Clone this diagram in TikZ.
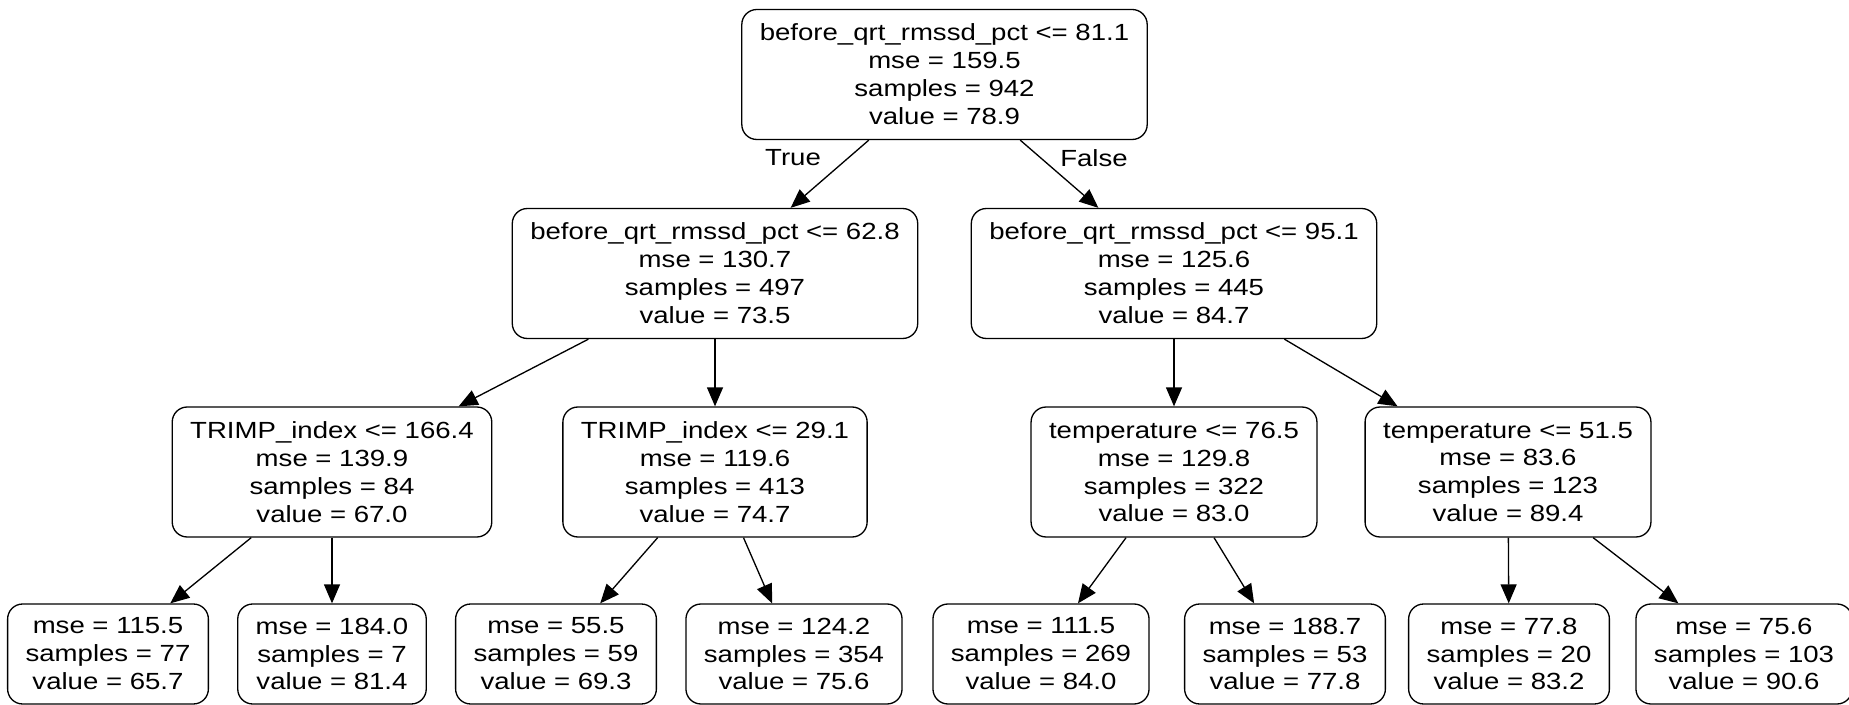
\documentclass[tikz,border=0pt]{standalone}
\usepackage{fontspec}
\setmainfont[FakeStretch=1.18]{Liberation Sans}
\usetikzlibrary{arrows.meta}

\begin{document}
\begin{tikzpicture}[x=0.02cm, y=-0.02cm,
    split/.style={draw, line width=0.75pt, rounded corners=0.3cm, align=center,
                  inner xsep=0.36cm, inner ysep=0pt, minimum height=2.6cm,
                  font=\fontsize{13.3}{15.9}\selectfont},
    leaf/.style={split, minimum height=2.0cm},
    edge/.style={line width=0.75pt, -{Triangle[length=0.38cm, width=0.32cm]}},
    lbl/.style={font=\fontsize{13.3}{15.9}\selectfont}]
                    \useasboundingbox (0,0) rectangle (1849,705);
                    % Root
                    \node[split] (root) at (944.5,74.5) {before\_qrt\_rmssd\_pct <= 81.1\\mse = 159.5\\samples = 942\\value = 78.9};
                    % Second level
                    \node[split] (bqL) at (715,273.5) {before\_qrt\_rmssd\_pct <= 62.8\\mse = 130.7\\samples = 497\\value = 73.5};
                    \node[split] (bqR) at (1174,273.5) {before\_qrt\_rmssd\_pct <= 95.1\\mse = 125.6\\samples = 445\\value = 84.7};
                    % Third level
                    \node[split] (trimpA) at (332,472) {TRIMP\_index <= 166.4\\mse = 139.9\\samples = 84\\value = 67.0};
                    \node[split] (trimpB) at (715,472) {TRIMP\_index <= 29.1\\mse = 119.6\\samples = 413\\value = 74.7};
                    \node[split] (tempA) at (1174,472) {temperature <= 76.5\\mse = 129.8\\samples = 322\\value = 83.0};
                    \node[split] (tempB) at (1508,472) {temperature <= 51.5\\mse = 83.6\\samples = 123\\value = 89.4};
                    % Leaves
                    \node[leaf] (leafA) at (108,654) {mse = 115.5\\samples = 77\\value = 65.7};
                    \node[leaf] (leafB) at (332,654) {mse = 184.0\\samples = 7\\value = 81.4};
                    \node[leaf] (leafC) at (556,654) {mse = 55.5\\samples = 59\\value = 69.3};
                    \node[leaf] (leafD) at (794,654) {mse = 124.2\\samples = 354\\value = 75.6};
                    \node[leaf] (leafE) at (1041,654) {mse = 111.5\\samples = 269\\value = 84.0};
                    \node[leaf] (leafF) at (1285,654) {mse = 188.7\\samples = 53\\value = 77.8};
                    \node[leaf] (leafG) at (1509,654) {mse = 77.8\\samples = 20\\value = 83.2};
                    \node[leaf] (leafH) at (1744,654) {mse = 75.6\\samples = 103\\value = 90.6};
                    % Edges
                    \draw[edge] (root) -- (bqL);
                    \draw[edge] (root) -- (bqR);
                    \draw[edge] (bqL) -- (trimpA);
                    \draw[edge] (bqL) -- (trimpB);
                    \draw[edge] (bqR) -- (tempA);
                    \draw[edge] (bqR) -- (tempB);
                    \draw[edge] (trimpA) -- (leafA);
                    \draw[edge] (trimpA) -- (leafB);
                    \draw[edge] (trimpB) -- (leafC);
                    \draw[edge] (trimpB) -- (leafD);
                    \draw[edge] (tempA) -- (leafE);
                    \draw[edge] (tempA) -- (leafF);
                    \draw[edge] (tempB) -- (leafG);
                    \draw[edge] (tempB) -- (leafH);
                    % Branch labels
                    \node[lbl] (trueLbl) at (793,158) {True};
                    \node[lbl] (falseLbl) at (1094,158) {False};
                \end{tikzpicture}
\end{document}
